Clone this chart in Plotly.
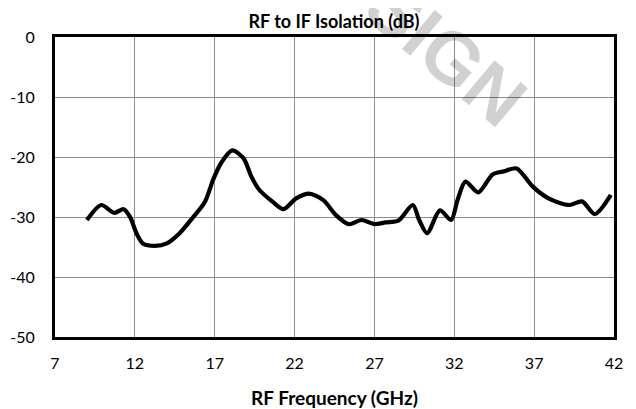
import plotly.graph_objects as go

freq_ghz = [9.0, 9.9, 10.7, 11.3, 11.7, 12.1, 12.5, 13.25, 14.0, 14.8, 15.6, 16.4, 16.9, 17.4,
            18.1, 18.8, 19.3, 19.8, 20.6, 21.3, 22.1, 22.9, 23.8, 24.6, 25.4, 26.2, 27.0, 27.7,
            28.5, 29.4, 29.8, 30.3, 31.1, 31.8, 32.2, 32.7, 33.5, 34.4, 35.1, 35.9, 36.9, 37.9,
            39.2, 40.0, 40.8, 41.8]
isolation_db = [-30.5, -28.0, -29.3, -28.7, -30.0, -32.7, -34.4, -34.8, -34.4, -32.7, -30.2, -27.4,
                -23.8, -21.0, -18.9, -20.2, -23.3, -25.5, -27.4, -28.7, -26.9, -26.1, -27.2, -29.7,
                -31.2, -30.5, -31.2, -30.9, -30.6, -28.0, -30.5, -32.7, -28.9, -30.5, -27.2, -24.1,
                -25.9, -22.9, -22.4, -21.9, -24.9, -26.9, -28.0, -27.4, -29.5, -26.3]
x_ticks = [7, 12, 17, 22, 27, 32, 37, 42]
y_ticks = [0, -10, -20, -30, -40, -50]

FONT = "Lato, 'Open Sans', sans-serif"
# the page body has an 8px margin, so the figure is 8px smaller than the window
W, H = 628, 401

fig = go.Figure()
fig.add_trace(go.Scatter(
    x=freq_ghz, y=isolation_db, mode="lines",
    line=dict(color="black", width=4.2, shape="spline", smoothing=0.8),
    showlegend=False, hoverinfo="skip"))

fig.update_layout(
    width=W, height=H,
    margin=dict(l=47, r=22, t=29, b=72, autoexpand=False),
    paper_bgcolor="white", plot_bgcolor="white",
    font=dict(family=FONT, color="black", size=16),
    title=dict(text="<b>RF to IF Isolation (dB)</b>", x=326 / W, xanchor="center",
               xref="container", yref="container",
               y=1 - 14 / H, yanchor="middle", font=dict(size=18, family=FONT)),
    xaxis=dict(range=[7, 42], tickvals=x_ticks, ticktext=[str(v) for v in x_ticks],
               showgrid=True, gridcolor="#8c8c8c", gridwidth=1, zeroline=False,
               showline=True, linecolor="black", linewidth=3, mirror=True,
               ticks="", ticklabelstandoff=10,
               title=dict(text="<b>RF Frequency (GHz)</b>", font=dict(size=19), standoff=28)),
    yaxis=dict(range=[-50, 0], tickvals=y_ticks, ticktext=[str(v) for v in y_ticks],
               showgrid=True, gridcolor="#8c8c8c", gridwidth=1, zeroline=False,
               showline=True, linecolor="black", linewidth=3, mirror=True,
               ticks="", ticklabelstandoff=14),
)

fig.add_annotation(text="<b>SIGN</b>", xref="paper", yref="paper",
                   x=(438 - 47) / 559, y=(329 - 44) / 300,
                   xanchor="center", yanchor="middle",
                   showarrow=False, textangle=40,
                   font=dict(size=74, family="'Liberation Sans', Arial, sans-serif",
                             color="rgba(0,0,0,0.18)"))

fig.write_html("out.html")
